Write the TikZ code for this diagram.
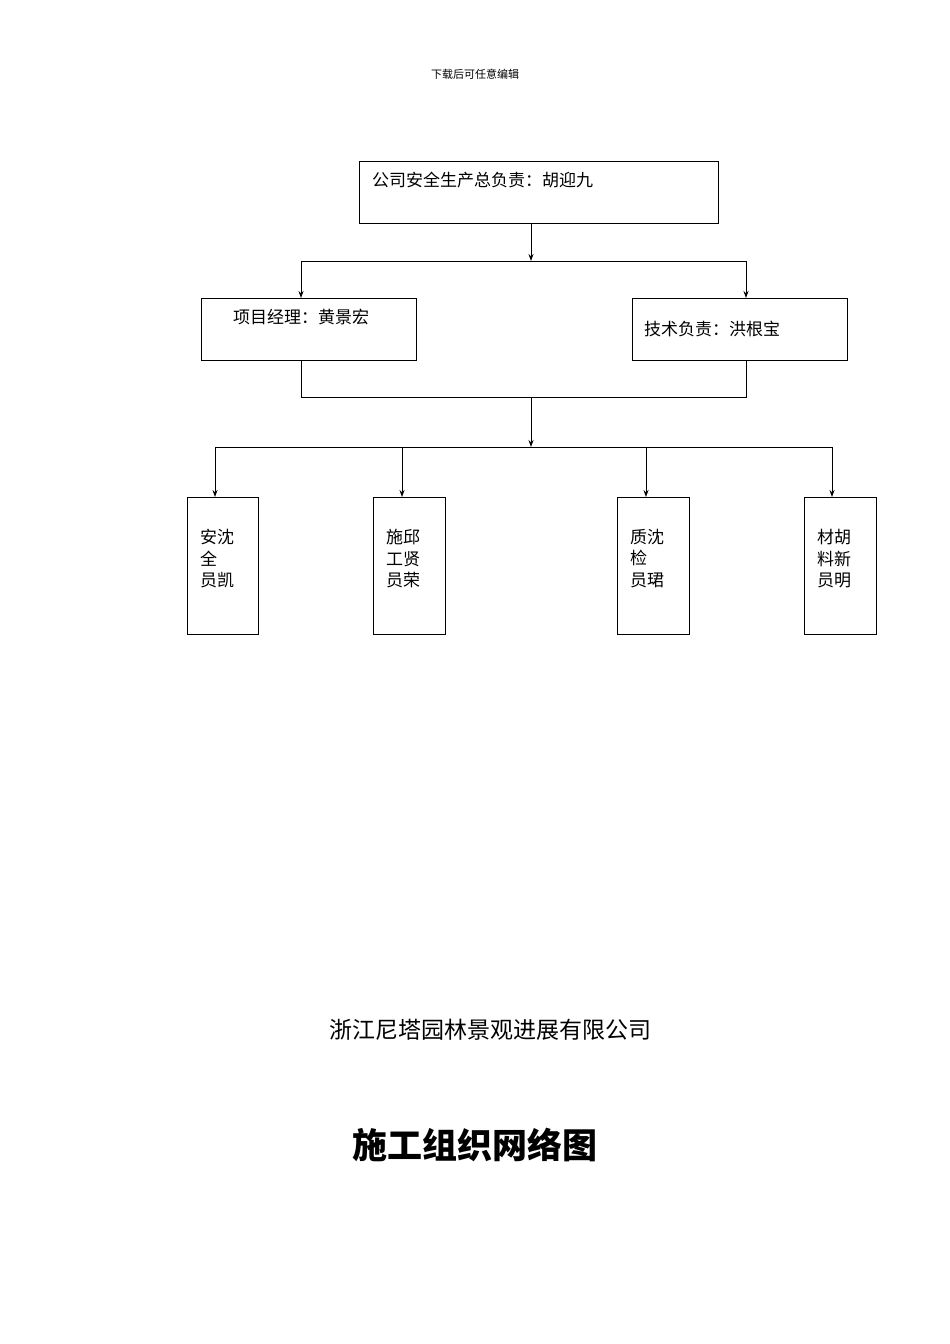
\documentclass[tikz,border=0pt]{standalone}
\usepackage{fontspec}
\newfontfamily\cjk{Noto Sans CJK SC}
\usetikzlibrary{arrows.meta}
\begin{document}
\begin{tikzpicture}[x=1pt,y=-1pt,
  box/.style={draw,line width=0.9pt},
  conn/.style={line width=0.9pt},
  arr/.style={conn,-{Stealth[length=7pt,width=5pt]}},
  lbl/.style={font=\cjk\fontsize{17}{21}\selectfont,anchor=west,inner sep=0},
  col/.style={font=\cjk\fontsize{17}{21.5}\selectfont,align=left,anchor=north west,inner sep=0}]
\useasboundingbox (0,0) rectangle (950,1344);
\node[font=\cjk\fontsize{11}{13}\selectfont] (hdr) at (475,74) {下载后可任意编辑};
% boxes
\draw[box] (359,161) rectangle (718,223);
\node[lbl] (t) at (372,180) {公司安全生产总负责：胡迎九};
\draw[box] (201,298) rectangle (416,360);
\node[lbl] (l) at (233,317) {项目经理：黄景宏};
\draw[box] (632,298) rectangle (847,360);
\node[lbl] (r) at (644,329) {技术负责：洪根宝};
\coordinate (tb) at (531,223); \coordinate (tj) at (531,261);
\coordinate (la) at (301,261); \coordinate (ra) at (746,261);
\coordinate (lt) at (301,298); \coordinate (rt) at (746,298);
\draw[arr] (tb) -- (tj);
\draw[conn] (la) -- (ra);
\draw[arr] (la) -- (lt);
\draw[arr] (ra) -- (rt);
\coordinate (lb) at (301,360); \coordinate (rb) at (746,360);
\coordinate (lj) at (301,397); \coordinate (rj) at (746,397);
\coordinate (mj) at (531,397); \coordinate (mk) at (531,447);
\draw[conn] (lb) -- (lj) -- (rj) -- (rb);
\draw[arr] (mj) -- (mk);
\coordinate (h1) at (215,447); \coordinate (h4) at (832,447);
\draw[conn] (h1) -- (h4);
\foreach \x/\a/\b/\tx in {215/187/258/{安沈\\全\\员凯},402/373/445/{施邱\\工贤\\员荣},646/617/689/{质沈\\检\\员珺},832/804/876/{材胡\\料新\\员明}}{
  \draw[arr] (\x,447) -- (\x,497);
  \draw[box] (\a,497) rectangle (\b,634);
  \node[col] at (\a+13,529) {\tx};
}
\node[font=\cjk\fontsize{23}{27}\selectfont] (co) at (490,1030) {浙江尼塔园林景观进展有限公司};
\node[font=\cjk\bfseries\fontsize{35}{40}\selectfont] (ti) at (475,1145) {施工组织网络图};
\end{tikzpicture}
\end{document}
